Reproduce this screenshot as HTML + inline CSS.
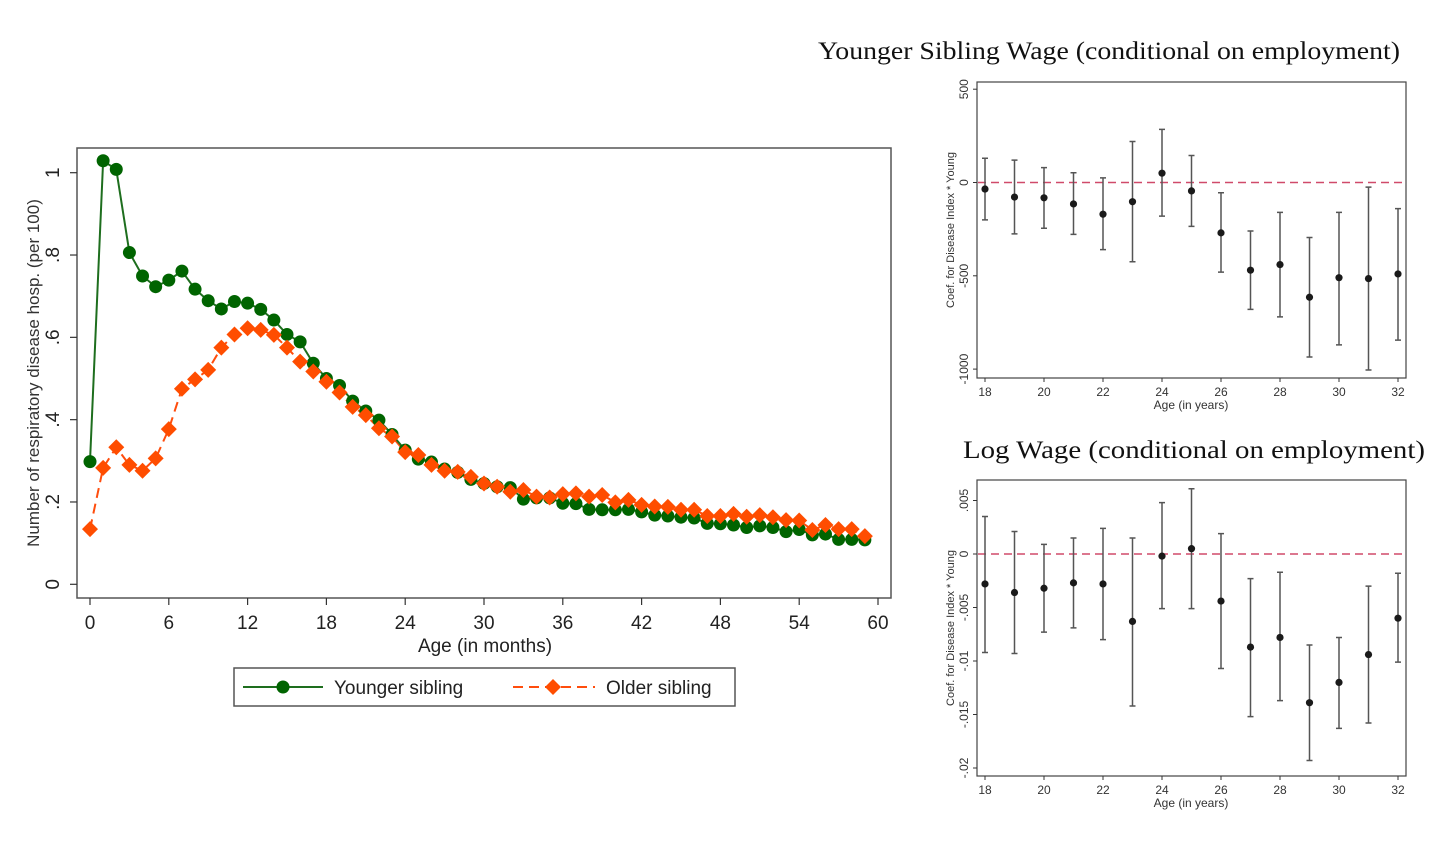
<!DOCTYPE html>
<html><head><meta charset="utf-8">
<style>
body{margin:0;background:#fff;}
svg{display:block;font-family:"Liberation Sans",Arial,sans-serif;}
.serif{font-family:"Liberation Serif",serif;}
</style></head>
<body>
<svg id="fig" width="1456" height="845" viewBox="0 0 1456 845" xmlns="http://www.w3.org/2000/svg">
<rect width="1456" height="845" fill="#fff"/>
<g id="left"></g>
<g id="top"></g>
<g id="bot"></g>
</svg>
<script>
const months = [0,1,2,3,4,5,6,7,8,9,10,11,12,13,14,15,16,17,18,19,20,21,22,23,24,25,26,27,28,29,30,31,32,33,34,35,36,37,38,39,40,41,42,43,44,45,46,47,48,49,50,51,52,53,54,55,56,57,58,59];
const youngerVals = [0.298,1.029,1.008,0.806,0.749,0.723,0.739,0.761,0.717,0.689,0.669,0.687,0.683,0.668,0.642,0.607,0.589,0.537,0.500,0.483,0.445,0.421,0.399,0.364,0.326,0.304,0.297,0.280,0.272,0.255,0.245,0.237,0.235,0.207,0.210,0.210,0.197,0.196,0.182,0.181,0.181,0.182,0.176,0.168,0.166,0.163,0.161,0.148,0.147,0.144,0.138,0.142,0.138,0.128,0.133,0.120,0.122,0.109,0.109,0.108];
const olderVals = [0.134,0.283,0.333,0.290,0.276,0.306,0.377,0.475,0.498,0.521,0.575,0.607,0.622,0.618,0.606,0.575,0.541,0.517,0.492,0.466,0.431,0.411,0.379,0.359,0.321,0.314,0.290,0.276,0.273,0.261,0.245,0.237,0.225,0.229,0.213,0.211,0.219,0.221,0.213,0.217,0.199,0.205,0.193,0.189,0.188,0.181,0.181,0.166,0.166,0.171,0.164,0.168,0.163,0.156,0.155,0.132,0.144,0.134,0.134,0.117];
const leftXTicks = [0,6,12,18,24,30,36,42,48,54,60];
const leftYTicks = [0,0.2,0.4,0.6,0.8,1];
const leftYLabels = ["0",".2",".4",".6",".8","1"];

const ages = [18,19,20,21,22,23,24,25,26,27,28,29,30,31,32];
const wageEst = [-35,-78,-82,-115,-170,-103,50,-45,-270,-470,-440,-615,-510,-515,-490];
const wageLo = [-200,-275,-245,-278,-360,-425,-180,-235,-480,-680,-720,-935,-870,-1005,-845];
const wageHi = [130,120,80,52,25,220,285,145,-55,-260,-160,-295,-160,-25,-140];
const wageYTicks = [500,0,-500,-1000];
const wageYLabels = ["500","0","-500","-1000"];

const logEst = [-0.0028,-0.0036,-0.0032,-0.0027,-0.0028,-0.0063,-0.0002,0.0005,-0.0044,-0.0087,-0.0078,-0.0139,-0.0120,-0.0094,-0.0060];
const logLo = [-0.0092,-0.0093,-0.0073,-0.0069,-0.0080,-0.0142,-0.0051,-0.0051,-0.0107,-0.0152,-0.0137,-0.0193,-0.0163,-0.0158,-0.0101];
const logHi = [0.0035,0.0021,0.0009,0.0015,0.0024,0.0015,0.0048,0.0061,0.0019,-0.0023,-0.0017,-0.0085,-0.0078,-0.0030,-0.0018];
const logYTicks = [0.005,0,-0.005,-0.01,-0.015,-0.02];
const logYLabels = [".005","0","-.005","-.01","-.015","-.02"];
const ageTicks = [18,20,22,24,26,28,30,32];

const NS="http://www.w3.org/2000/svg";
function mk(parent,tag,attrs,text){const e=document.createElementNS(NS,tag);for(const k in attrs)e.setAttribute(k,attrs[k]);if(text!==undefined)e.textContent=text;parent.appendChild(e);return e;}

// ---------- left chart ----------
(function(){
const g=document.getElementById('left');
const x=m=>90+m*(788/60);
const y=v=>584.3-v*411.6;
let e=mk(g,'rect',{x:77,y:148,width:814,height:450,fill:'#fff',stroke:'#555','stroke-width':1.5});

leftXTicks.forEach(t=>{
 e=mk(g,'line',{x1:x(t),x2:x(t),y1:598,y2:605,stroke:'#333','stroke-width':1.2});
 
 e=mk(g,'text',{x:x(t),y:629,'font-size':19,'text-anchor':'middle',fill:'#222'},String(t));
 
});
leftYTicks.forEach((t,i)=>{
 e=mk(g,'line',{x1:70,x2:77,y1:y(t),y2:y(t),stroke:'#333','stroke-width':1.2});
 
 e=mk(g,'text',{x:0,y:0,'font-size':19,'text-anchor':'middle',fill:'#222',transform:`translate(59,${y(t)}) rotate(-90)`},leftYLabels[i]);
 
});
e=mk(g,'text',{x:0,y:0,'font-size':17,'text-anchor':'middle',fill:'#333',transform:'translate(39,373) rotate(-90)'},'Number of respiratory disease hosp. (per 100)');

e=mk(g,'text',{x:485,y:652,'font-size':19,'text-anchor':'middle',fill:'#222'},'Age (in months)');

e=mk(g,'polyline',{points:months.map((m,i)=>x(m)+','+y(olderVals[i])).join(' '),fill:'none',stroke:'#ff4d0d','stroke-width':2,'stroke-dasharray':'10,6'});

e=mk(g,'polyline',{points:months.map((m,i)=>x(m)+','+y(youngerVals[i])).join(' '),fill:'none',stroke:'#1e6e1e','stroke-width':2});

months.forEach((m,i)=>{
 e=mk(g,'circle',{cx:x(m),cy:y(youngerVals[i]),r:6.5,fill:'#006400'});
 
});
months.forEach((m,i)=>{
 const cx=x(m),cy=y(olderVals[i]),s=8;
 e=mk(g,'polygon',{points:`${cx},${cy-s} ${cx+s},${cy} ${cx},${cy+s} ${cx-s},${cy}`,fill:'#ff4d00'});
 
});
const lg=mk(g,'g',{});

mk(lg,'rect',{x:234,y:668,width:501,height:38,fill:'#fff',stroke:'#555','stroke-width':1.5});
mk(lg,'line',{x1:243,x2:323,y1:687,y2:687,stroke:'#1e6e1e','stroke-width':2});
mk(lg,'circle',{cx:283,cy:687,r:6.5,fill:'#006400'});
e=mk(lg,'text',{x:334,y:694,'font-size':19,fill:'#222'},'Younger sibling');

mk(lg,'line',{x1:513,x2:595,y1:687,y2:687,stroke:'#ff4d0d','stroke-width':2,'stroke-dasharray':'10,6'});
mk(lg,'polygon',{points:'553,679 561,687 553,695 545,687',fill:'#ff4d00'});
e=mk(lg,'text',{x:606,y:694,'font-size':19,fill:'#222'},'Older sibling');

})();

// ---------- right charts ----------
function coefPlot(gid,top,zeroY,scale,est,lo,hi,yTicks,yLabels,title,titleX,titleY,titleLen){
 const g=document.getElementById(gid);
 const x=a=>985+(a-18)*(413/14);
 const y=v=>zeroY-v*scale;
 let e=mk(g,'text',{x:titleX,y:titleY,'font-size':25,'text-anchor':'middle',fill:'#111',class:'serif',textLength:titleLen,lengthAdjust:'spacingAndGlyphs'},title);
 
 e=mk(g,'rect',{x:977,y:top,width:429,height:296,fill:'#fff',stroke:'#444','stroke-width':1.2});
 
 ageTicks.forEach(t=>{
  mk(g,'line',{x1:x(t),x2:x(t),y1:top+296,y2:top+300,stroke:'#333'});
  e=mk(g,'text',{x:x(t),y:top+314,'font-size':12,'text-anchor':'middle',fill:'#333'},String(t));
  
 });
 yTicks.forEach((t,i)=>{
  mk(g,'line',{x1:973,x2:977,y1:y(t),y2:y(t),stroke:'#333'});
  e=mk(g,'text',{x:0,y:0,'font-size':12,'text-anchor':'middle',fill:'#333',transform:`translate(968,${y(t)}) rotate(-90)`},yLabels[i]);
  
 });
 e=mk(g,'text',{x:1191,y:top+327,'font-size':12,'text-anchor':'middle',fill:'#333'},'Age (in years)');
 
 e=mk(g,'text',{x:0,y:0,'font-size':11,'text-anchor':'middle',fill:'#333',transform:`translate(954,${top+148}) rotate(-90)`},'Coef. for Disease Index * Young');
 
 e=mk(g,'line',{x1:978,x2:1405,y1:y(0),y2:y(0),stroke:'#d04a6a','stroke-width':1.6,'stroke-dasharray':'8,5'});
 
 ages.forEach((a,i)=>{
  const cx=x(a);
  e=mk(g,'path',{d:`M${cx},${y(hi[i])}V${y(lo[i])}M${cx-3},${y(hi[i])}H${cx+3}M${cx-3},${y(lo[i])}H${cx+3}`,stroke:'#555','stroke-width':1.5,fill:'none'});
  
  e=mk(g,'circle',{cx:cx,cy:y(est[i]),r:3.6,fill:'#1a1a1a'});
  
 });
}
coefPlot('top',82,182.5,93.3/500,wageEst,wageLo,wageHi,wageYTicks,wageYLabels,'Younger Sibling Wage (conditional on employment)',1109,59,582);
coefPlot('bot',480,554,53.5/0.005,logEst,logLo,logHi,logYTicks,logYLabels,'Log Wage (conditional on employment)',1194,458,462);
</script>
</body></html>
